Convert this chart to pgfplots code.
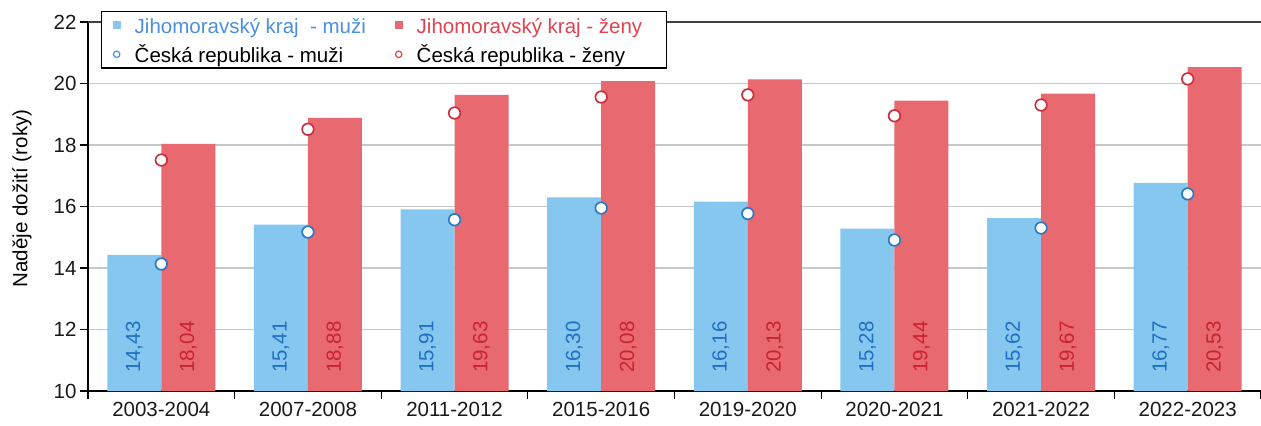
\documentclass[border=0pt]{standalone}
\usepackage{pgfplots}
\pgfplotsset{compat=1.18}
\usepackage{pgfplotstable}
\usepackage{fontspec}
\setmainfont{Liberation Sans}
\definecolor{jmb}{HTML}{85C7EE}
\definecolor{jmr}{HTML}{E86970}
\definecolor{lblb}{HTML}{1F6FC5}
\definecolor{lblr}{HTML}{C8232F}
\definecolor{crb}{HTML}{2A7AC6}
\definecolor{crr}{HTML}{C8323E}
\definecolor{legb}{HTML}{4A90E2}
\definecolor{legr}{HTML}{E0434F}
\definecolor{gridc}{HTML}{C8C8C8}

\pgfplotstableread{
x jmm jmz crm crz base
0 14.43 18.04 14.13 17.51 10
1 15.41 18.88 15.17 18.51 10
2 15.91 19.63 15.57 19.04 10
3 16.30 20.08 15.95 19.56 10
4 16.16 20.13 15.77 19.63 10
5 15.28 19.44 14.91 18.95 10
6 15.62 19.67 15.30 19.30 10
7 16.77 20.53 16.41 20.15 10
}\data

\begin{document}
\begin{tikzpicture}[font=\fontsize{20.5}{24.6}\selectfont]
\begin{axis}[
  scale only axis,
  width=1173pt, height=369pt,
  xmin=-0.5, xmax=7.5, ymin=10, ymax=22,
  axis x line*=bottom, axis y line*=left,
  axis line style={black, line width=1.3pt},
  xtick={-0.5,0.5,...,7.5},
  x tick label as interval,
  xticklabels={2003-2004,2007-2008,2011-2012,2015-2016,2019-2020,2020-2021,2021-2022,2022-2023},
  ytick={10,12,...,22},
  ymajorgrids,
  grid style={gridc, line width=1.5pt},
  tick align=outside,
  major tick length=8pt,
  tick style={black, line width=1.2pt},
  /pgf/number format/assume math mode=true,
  tick label style={text=black!90},
  ylabel={Naděje dožití (roky)},
  every axis y label/.style={at={(rel axis cs:0,0.5)}, xshift=-66pt, yshift=8pt, rotate=90, anchor=center},
  legend columns=2,
  legend cell align=left,
  legend style={at={(rel axis cs:0,1)}, anchor=north west, xshift=13pt, yshift=11pt,
    draw=black, line width=1.4pt, fill=white,
    inner xsep=11pt, inner ysep=4pt,
    nodes={inner sep=0pt},
    /tikz/every odd column/.append style={column sep=14pt},
    /tikz/every even column/.append style={column sep=14pt},
    row sep=9.5pt},
]
\addplot[ybar, bar width=54pt, bar shift=-27pt, fill=jmb, draw=none,
  legend image code/.code={\fill[jmb] (0pt,-4pt) rectangle (8pt,4pt);}]
  table[x=x, y=jmm]{\data};
\addlegendentry{\makebox[246pt][l]{\color{legb}\vphantom{Čý}Jihomoravský kraj\ \ - muži}}
\addplot[ybar, bar width=54pt, bar shift=27pt, fill=jmr, draw=none,
  legend image code/.code={\fill[jmr] (0pt,-4pt) rectangle (8pt,4pt);}]
  table[x=x, y=jmz]{\data};
\addlegendentry{\makebox[239pt][l]{\color{legr}\vphantom{Čý}Jihomoravský kraj - ženy}}
\addplot[only marks, mark=*, mark size=5.8pt, mark options={fill=white, draw=crb, line width=1.7pt},
  legend image code/.code={\draw[legb, line width=1.2pt, fill=white] (4pt,0pt) circle (3.2pt);}]
  table[x=x, y=crm]{\data};
\addlegendentry{\makebox[246pt][l]{\vphantom{Čý}Česká republika - muži}}
\addplot[only marks, mark=*, mark size=5.8pt, mark options={fill=white, draw=crr, line width=1.7pt},
  legend image code/.code={\draw[legr, line width=1.2pt, fill=white] (4pt,0pt) circle (3.2pt);}]
  table[x=x, y=crz]{\data};
\addlegendentry{\makebox[239pt][l]{\vphantom{Čý}Česká republika - ženy}}
\addplot[forget plot, draw=none, mark=none, point meta=\thisrow{jmm},
  nodes near coords={\pgfmathprintnumber[fixed,fixed zerofill,precision=2,use comma,assume math mode=true]{\pgfplotspointmeta}},
  nodes near coords style={xshift=-27pt, yshift=18pt, rotate=90, anchor=west, inner sep=0pt, text=lblb}]
  table[x=x, y=base]{\data};
\addplot[forget plot, draw=none, mark=none, point meta=\thisrow{jmz},
  nodes near coords={\pgfmathprintnumber[fixed,fixed zerofill,precision=2,use comma,assume math mode=true]{\pgfplotspointmeta}},
  nodes near coords style={xshift=27pt, yshift=18pt, rotate=90, anchor=west, inner sep=0pt, text=lblr}]
  table[x=x, y=base]{\data};
\draw[black!75, line width=1.5pt] (rel axis cs:0,1) -- (rel axis cs:1,1);
\coordinate (sw) at (rel axis cs:0,0);
\coordinate (ne) at (rel axis cs:1,1);
\end{axis}
\pgfresetboundingbox
\path[use as bounding box] ([shift={(-88pt,-34pt)}]sw) rectangle ([shift={(0pt,22pt)}]ne);
\end{tikzpicture}
\end{document}
